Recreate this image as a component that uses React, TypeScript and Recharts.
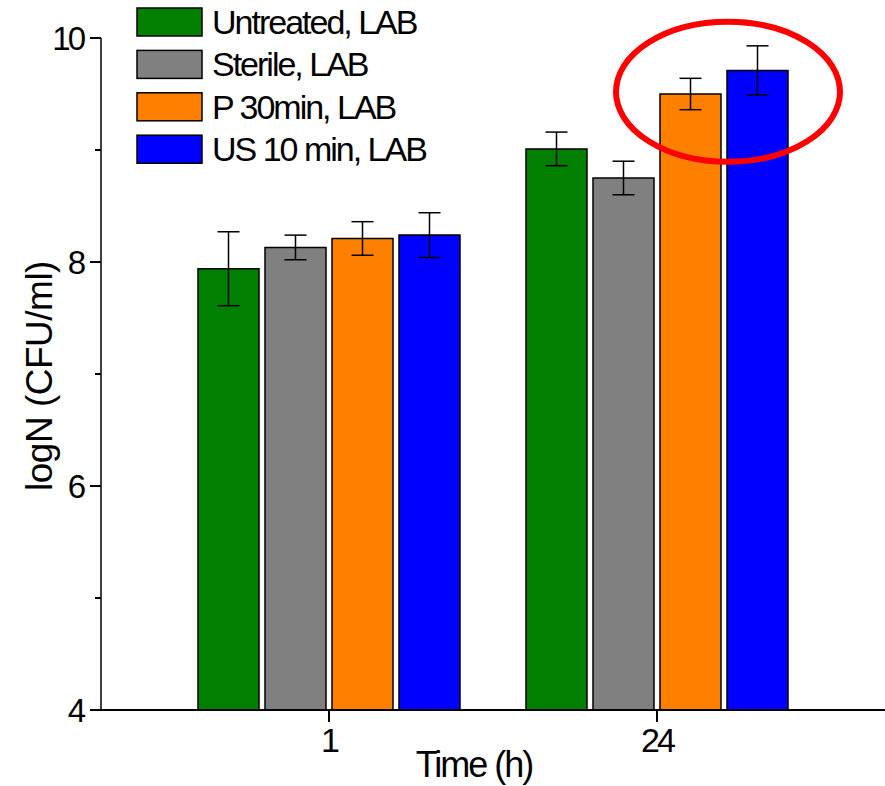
import React from 'react';
import { BarChart, Bar, XAxis, YAxis, ErrorBar, ReferenceDot } from 'recharts';

const categories = ['1', '24'];
const untreated = [7.94, 9.01];
const untreatedErr = [0.33, 0.15];
const sterile = [8.13, 8.75];
const sterileErr = [0.11, 0.15];
const p30 = [8.21, 9.5];
const p30Err = [0.15, 0.14];
const us10 = [8.24, 9.71];
const us10Err = [0.2, 0.22];
const yTicks = [4, 5, 6, 7, 8, 9, 10];
const highlight = { x: '24', y: 9.52 };

const seriesKeys = ['untreated', 'sterile', 'p30', 'us10'];
const seriesNames = ['Untreated, LAB', 'Sterile, LAB', 'P 30min, LAB', 'US 10 min, LAB'];
const seriesColors = ['#007F00', '#808080', '#FF8000', '#0000FF'];

const data = categories.map((c, i) => ({
  time: c,
  untreated: untreated[i],
  untreatedErr: untreatedErr[i],
  sterile: sterile[i],
  sterileErr: sterileErr[i],
  p30: p30[i],
  p30Err: p30Err[i],
  us10: us10[i],
  us10Err: us10Err[i],
}));

const FONT = '"Liberation Sans", Arial, sans-serif';
const Y_TICK_SIZE = 9;
const Y_TICK_MARGIN = 9;
const X_TICK_SIZE = 12;
const X_TICK_MARGIN = 5;

const YTick = (props: any) => {
  const { x, y, payload } = props;
  const v = Number(payload.value);
  const major = v % 2 === 0;
  const axisX = Number(x) + Y_TICK_SIZE + Y_TICK_MARGIN;
  return (
    <g>
      <path d={`M${axisX - (major ? 11 : 6)},${y}H${axisX}`} stroke="#000" strokeWidth={2} fill="none" />
      {major && (
        <text x={x} y={y} dy="0.36em" textAnchor="end" fontFamily={FONT} fontSize={33} letterSpacing={-3} fill="#000">
          {v}
        </text>
      )}
    </g>
  );
};

const XTick = (props: any) => {
  const { x, y, payload } = props;
  const axisY = Number(y) - X_TICK_SIZE - X_TICK_MARGIN;
  return (
    <g>
      <path d={`M${x},${axisY}V${axisY + X_TICK_SIZE}`} stroke="#000" strokeWidth={2} fill="none" />
      <text x={x} y={y} dy="0.74em" textAnchor="middle" fontFamily={FONT} fontSize={34} letterSpacing={-3} fill="#000">
        {payload.value}
      </text>
    </g>
  );
};

const LegendBox = () => (
  <svg width={330} height={175} style={{ position: 'absolute', left: 136, top: 0 }}>
    {seriesNames.map((name, i) => (
      <g key={name}>
        <rect x={1} y={8 + i * 42.4} width={65} height={28} fill={seriesColors[i]} stroke="#000" strokeWidth={1.5} />
        <text x={76} y={34 + i * 42.4} fontFamily={FONT} fontSize={34} letterSpacing={-2} fill="#000">
          {name}
        </text>
      </g>
    ))}
  </svg>
);

const Ellipse = (props: any) => {
  const { cx, cy } = props;
  return <ellipse cx={cx + 71} cy={cy} rx={112} ry={70} fill="none" stroke="#FF0000" strokeWidth={6} />;
};

export default function App() {
  return (
    <div style={{ position: 'absolute', left: 0, top: 0, width: 885, height: 786, background: '#fff' }}>
      <BarChart
        width={885}
        height={786}
        data={data}
        margin={{ top: 38, right: 0, bottom: 0, left: 0 }}
        barCategoryGap={33}
        barGap={6}
      >
        <XAxis
          dataKey="time"
          padding={{ left: 64, right: 64 }}
          axisLine={{ stroke: '#000', strokeWidth: 2 }}
          tickLine={false}
          tickSize={X_TICK_SIZE}
          tickMargin={X_TICK_MARGIN}
          tick={<XTick />}
          height={76}
          label={{
            content: () => (
              <text x={474} y={777} textAnchor="middle" fontFamily={FONT} fontSize={36} letterSpacing={-2} fill="#000">
                Time (h)
              </text>
            ),
          }}
        />
        <YAxis
          domain={[4, 10]}
          ticks={yTicks}
          interval={0}
          allowDataOverflow
          width={101}
          axisLine={{ stroke: '#000', strokeWidth: 1.5 }}
          tickLine={false}
          tickSize={Y_TICK_SIZE}
          tickMargin={Y_TICK_MARGIN}
          tick={<YTick />}
          label={{
            content: () => (
              <text
                x={52}
                y={376}
                transform="rotate(-90, 52, 376)"
                textAnchor="middle"
                fontFamily={FONT}
                fontSize={37}
                letterSpacing={-0.5}
                fill="#000"
              >
                logN (CFU/ml)
              </text>
            ),
          }}
        />
        {seriesKeys.map((k, i) => (
          <Bar
            key={k}
            dataKey={k}
            name={seriesNames[i]}
            fill={seriesColors[i]}
            stroke="#000"
            strokeWidth={1.5}
            isAnimationActive={false}
          >
            <ErrorBar dataKey={`${k}Err`} width={11} stroke="#000" strokeWidth={1.5} direction="y" />
          </Bar>
        ))}
        <ReferenceDot x={highlight.x} y={highlight.y} shape={<Ellipse />} ifOverflow="visible" />
      </BarChart>
      <LegendBox />
    </div>
  );
}
